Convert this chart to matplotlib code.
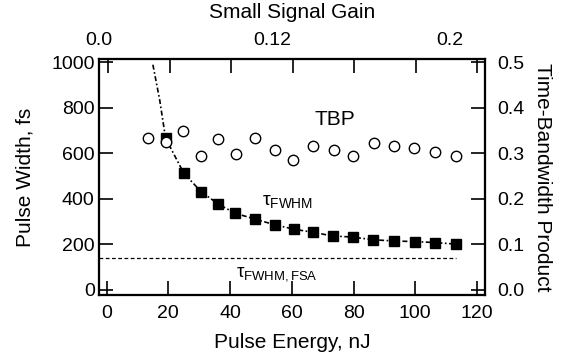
import numpy as np
import matplotlib.pyplot as plt

plt.rcParams['font.family'] = ['Liberation Sans', 'DejaVu Sans']
plt.rcParams['mathtext.fontset'] = 'custom'
plt.rcParams['mathtext.rm'] = 'Liberation Sans'
plt.rcParams['mathtext.it'] = 'Liberation Sans'

# pulse width (squares)
energy = [19.1, 25.0, 30.6, 36.2, 41.6, 48.1, 54.5, 60.6, 66.9, 73.2,
          79.7, 86.4, 93.2, 99.9, 106.4, 113.2]
width = [667, 513, 432, 377, 337, 311, 286, 267, 253, 237,
         232, 220, 215, 212, 208, 201]

# fitted curve (dash-dot), extends above first point
fit_e = [15.0, 17.2] + energy
fit_w = [990, 835] + width

# time-bandwidth product (circles)
tbp_e = [13.4, 19.1, 24.9, 30.6, 36.2, 42.0, 48.1, 54.5, 60.5, 66.8,
         73.6, 79.7, 86.5, 93.2, 99.7, 106.5, 113.2]
tbp = [0.333, 0.324, 0.350, 0.295, 0.331, 0.298, 0.333, 0.308, 0.286, 0.317,
       0.308, 0.295, 0.322, 0.316, 0.311, 0.304, 0.295]

fsa_width = 139
fsa_range = [-2.5, 113.2]

gain_pos = [-3, 53.5, 111]
gain_labels = ['0.0', '0.12', '0.2']

fig = plt.figure(figsize=(5.65, 3.6), dpi=100)
ax = fig.add_axes([0.175, 0.181, 0.683, 0.655])
xlim = (-2.5, 122.5)
ylim = (-22, 1015)

ax.plot(fit_e, fit_w, color='black', lw=1.2, ls=(0, (3, 1.5, 1, 1.5)), zorder=2)
ax.plot(energy, width, 's', color='black', ms=7.5, zorder=3)
ax.plot(fsa_range, [fsa_width, fsa_width], color='black', lw=0.9, ls=(0, (3, 2)))

ax.set_xlim(xlim)
ax.set_ylim(ylim)
ax.set_xticks(np.arange(0, 121, 20))
ax.set_yticks(np.arange(0, 1001, 200))
ax.tick_params(direction='in', length=10, width=1.2, labelsize=14)
ax.tick_params(axis='y', pad=3)
ax.tick_params(axis='x', pad=7)
ax.set_xlabel('Pulse Energy, nJ', fontsize=15, labelpad=8)
ax.set_ylabel('Pulse Width, fs', fontsize=15, labelpad=12)

ax.text(67.3, 747, 'TBP', fontsize=15, va='center')
ax.text(50.5, 375, r'$\tau_{\rm FWHM}$', fontsize=14)
ax.text(42, 60, r'$\tau_{\rm FWHM,FSA}$', fontsize=13.5)

ax2 = ax.twinx()
ax2.plot(tbp_e, tbp, 'o', mfc='white', mec='black', mew=1, ms=7.5)
ax2.set_ylim(ylim[0] / 2000, ylim[1] / 2000)
ax2.set_yticks(np.arange(0, 0.51, 0.1))
ax2.tick_params(direction='in', length=10, width=1.2, labelsize=14, pad=9)
ax2.set_ylabel('Time-Bandwidth Product', fontsize=15, rotation=270, labelpad=20)

ax3 = ax.twiny()
ax3.set_xlim(xlim)
ax3.set_xticks(np.arange(0, 121, 20))
ax3.set_xticklabels([])
ax3.set_xticks(gain_pos, gain_labels, minor=True)
ax3.tick_params(axis='x', which='major', direction='in', length=10, width=1.2)
ax3.tick_params(axis='x', which='minor', length=0, labelsize=14, pad=7)
ax3.set_xlabel('Small Signal Gain', fontsize=15, labelpad=10)

for a in (ax, ax2, ax3):
    for s in a.spines.values():
        s.set_linewidth(1.5)

fig.savefig('out.png', dpi=100)
